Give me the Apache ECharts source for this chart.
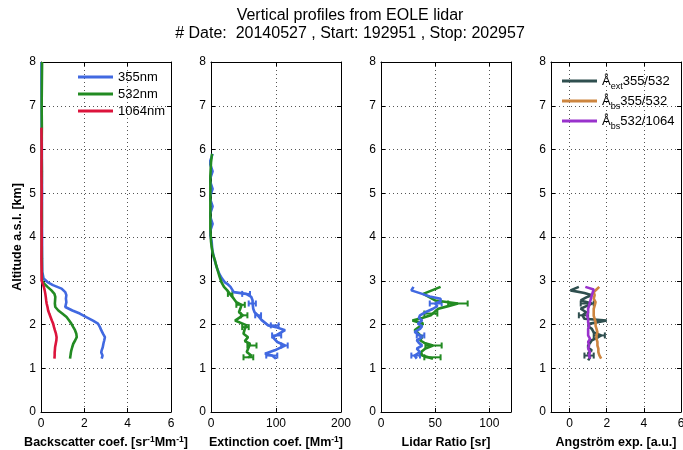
<!DOCTYPE html>
<html><head><meta charset="utf-8">
<script src="https://cdn.jsdelivr.net/npm/echarts@6/dist/echarts.min.js"></script>
<style>html,body{margin:0;padding:0;background:#fff}#c{width:683px;height:450px}</style>
</head><body><div id="c"></div>
<script>
// ---------------- Data ----------------
// Panel 1: backscatter coefficient [sr-1 Mm-1] vs altitude [km]
const bsc355Alt = [1.22,1.29,1.36,1.41,1.48,1.56,1.64,1.71,1.79,1.87,1.94,2.02,2.09,2.17,2.25,2.32,2.40,2.44,2.51,2.59,2.67,2.74,2.82,2.90,2.97,3.05,3.2,3.5,4.0,4.5,5.0,5.5,6.0,6.5,7.0,7.5,8.0];
const bsc355 = [2.80,2.84,2.78,2.80,2.85,2.88,2.92,2.95,2.86,2.78,2.72,2.63,2.40,2.09,1.79,1.45,1.12,1.20,1.17,1.15,1.17,1.12,0.95,0.55,0.30,0.12,0.06,0.05,0.05,0.04,0.05,0.04,0.04,0.03,0.03,0.02,0.02];
const bsc532Alt = [1.22,1.29,1.36,1.41,1.48,1.56,1.64,1.71,1.79,1.87,1.94,2.02,2.09,2.17,2.25,2.32,2.40,2.48,2.55,2.63,2.70,2.78,2.86,2.93,3.00,3.2,3.5,4.0,4.5,5.0,5.5,6.0,6.5,7.0,7.5,8.0];
const bsc532 = [1.34,1.36,1.38,1.40,1.44,1.49,1.58,1.65,1.63,1.57,1.49,1.40,1.30,1.18,0.98,0.80,0.66,0.64,0.65,0.66,0.62,0.48,0.30,0.15,0.05,0.04,0.04,0.03,0.04,0.03,0.04,0.03,0.04,0.03,0.04,0.05];
const bsc1064Alt = [1.22,1.29,1.36,1.41,1.48,1.56,1.64,1.71,1.79,1.87,1.94,2.02,2.09,2.17,2.25,2.32,2.40,2.48,2.55,2.63,2.70,2.78,2.86,2.93,3.00,3.2,3.5,4.0,4.5,5.0,5.5,6.0,6.5];
const bsc1064 = [0.62,0.63,0.63,0.64,0.65,0.68,0.71,0.72,0.69,0.64,0.60,0.56,0.50,0.44,0.38,0.33,0.30,0.26,0.24,0.22,0.20,0.17,0.13,0.08,0.03,0.03,0.02,0.03,0.02,0.03,0.02,0.03,0.02];

// Panel 2: extinction coefficient [Mm-1]
const ext355Alt = [1.22,1.25,1.29,1.33,1.41,1.45,1.52,1.60,1.64,1.71,1.75,1.82,1.87,1.94,1.98,2.02,2.10,2.21,2.28,2.36,2.48,2.55,2.63,2.70,2.74,2.78,2.86,2.93,2.97,3.05,3.15,3.3,3.5,3.7,3.9,4.1,4.3,4.5,4.7,4.9,5.1,5.3,5.5,5.7,5.9];
const ext355 = [100,100,94,83,98,100,114,102,105,95,100,108,114,100,88,85,78,72,67,65,64,64,62,54,35,33,30,25,21,17,13,9,5,2,1,-2,2.5,-2,2.5,-2,2.5,-2,2.5,-2,2.5];
const ext355ErrAlt = [2.70,2.48,2.21,1.98,1.75,1.52,1.29];
const ext355ErrLo = [48,58,68,92,94,108,85];
const ext355ErrHi = [60,69,77,104,108,118,102];
const ext532Alt = [1.25,1.29,1.33,1.37,1.41,1.48,1.56,1.62,1.71,1.79,1.83,1.90,1.98,2.02,2.09,2.17,2.21,2.28,2.32,2.40,2.45,2.51,2.59,2.70,2.78,2.86,2.97,3.10,3.20,3.35,3.47,3.60,3.77,3.9,4.2,4.5,4.8,5.1,5.4,5.7,5.9];
const ext532 = [57,62,65,55,54,58,60,52,57,50,47,52,55,54,37,45,49,43,42,46,47,39,35,29,25,20,16,13,11,8,6,3,1,0,-1,-1,-1,-1,-1,0,1.5];
const ext532ErrAlt = [2.70,2.45,2.21,1.94,1.52,1.25];
const ext532ErrLo = [26,39,46,48,56,50];
const ext532ErrHi = [33,52,56,58,70,65];

// Panel 3: lidar ratio [sr]
const lr355Alt = [1.22,1.29,1.37,1.45,1.52,1.58,1.64,1.71,1.75,1.83,1.90,1.96,2.02,2.09,2.15,2.21,2.28,2.36,2.42,2.48,2.53,2.59,2.64,2.70,2.78,2.86];
const lr355 = [33,31,36,33,38,35,33,38,36,31,36,38,34,38,35,36,41,48,52,50,55,55,45,38,28,30];
const lr355ErrAlt = [2.48,1.75,1.29];
const lr355ErrLo = [45,33,28];
const lr355ErrHi = [56,40,36];
const lr532Alt = [1.22,1.25,1.29,1.37,1.45,1.52,1.58,1.64,1.71,1.75,1.81,1.87,1.94,2.02,2.09,2.15,2.21,2.25,2.30,2.36,2.42,2.48,2.55,2.62,2.70,2.78,2.86];
const lr532 = [48,48,38,37,41,48,40,36,38,39,34,31,35,39,29,38,46,45,50,53,62,71,50,45,39,47,55];
const lr532ErrAlt = [2.48,2.25,1.52,1.25];
const lr532ErrLo = [62,40,41,40];
const lr532ErrHi = [80,52,56,55];

// Panel 4: Angstrom exponents [a.u.]
const angExtAlt = [1.18,1.25,1.29,1.35,1.41,1.47,1.52,1.58,1.64,1.70,1.75,1.82,1.90,1.96,2.02,2.09,2.13,2.21,2.28,2.36,2.42,2.48,2.55,2.62,2.67,2.72,2.78,2.86];
const angExt = [1.0,1.1,1.1,1.0,1.2,1.0,1.0,1.1,1.2,1.5,1.7,1.3,1.2,1.0,1.1,2.0,0.8,0.7,0.9,0.6,0.9,1.2,0.6,0.9,1.2,0.8,0.05,0.5];
const angExtErrAlt = [2.48,2.21,1.75,1.29];
const angExtErrLo = [0.6,0.5,1.3,0.8];
const angExtErrHi = [1.3,1.0,1.9,1.3];
const angBsAlt = [1.22,1.30,1.37,1.45,1.52,1.60,1.67,1.75,1.82,1.90,1.97,2.05,2.13,2.20,2.28,2.36,2.43,2.51,2.59,2.67,2.74,2.80,2.86];
const angBs355 = [1.7,1.6,1.55,1.55,1.5,1.5,1.45,1.45,1.5,1.45,1.4,1.4,1.35,1.3,1.3,1.3,1.35,1.4,1.3,1.35,1.3,1.45,1.6];
const angBs532 = [1.1,1.05,1.1,1.0,1.05,1.0,1.1,1.0,1.0,1.0,1.05,1.0,1.0,0.95,1.0,1.0,1.05,1.1,1.15,1.2,1.25,1.3,0.85];

// Axis tick labels / titles
const altTicks = [0,1,2,3,4,5,6,7,8];
const xNames = ['Backscatter coef. [sr{sup|-1}Mm{sup|-1}]', 'Extinction coef. [Mm{sup|-1}]', 'Lidar Ratio [sr]', 'Angström exp. [a.u.]'];
const titleLines = ['Vertical profiles from EOLE lidar', '# Date:  20140527 , Start: 192951 , Stop: 202957'];

// ---------------- Build ----------------
const C355 = '#4169E1', C532 = '#228B22', C1064 = '#DC143C';
const CEXT = '#2F4F4F', CBS355 = '#CD853F', CBS532 = '#9932CC';
const FONT = 'Liberation Sans, Arial, Helvetica, sans-serif';

function pairs(vals, alts) { return alts.map((a, i) => [vals[i], a]); }
function errs(alts, lo, hi) { return alts.map((a, i) => [a, lo[i], hi[i]]); }

const lefts = [41, 211, 381, 551];
const TOP = 62, H = 350, W = 130;
const xCfg = [
  {min: 0, max: 6, interval: 2},
  {min: 0, max: 200, interval: 100},
  {min: 0, max: 120, interval: 50},
  {min: -1, max: 6, splitNumber: 4, minInterval: 2, maxInterval: 2}
];

const grids = [], xAxes = [], yAxes = [];
const gridLine = {show: true, lineStyle: {type: [1, 3], color: '#555', width: 1}};
lefts.forEach((l, i) => {
  grids.push({left: l, top: TOP, width: W, height: H, containLabel: false, outerBoundsMode: 'none'});
  const base = Object.assign({type: 'value', gridIndex: i}, xCfg[i]);
  xAxes.push(Object.assign({}, base, {
    position: 'bottom',
    axisLine: {show: true, onZero: false, lineStyle: {color: '#000', width: 1}},
    axisTick: {show: true, inside: true, length: 4, lineStyle: {color: '#000'}},
    axisLabel: {show: true, color: '#000', fontSize: 12, fontFamily: FONT, margin: 6,
      showMaxLabel: i === 2 ? false : null, showMinLabel: i === 3 ? false : null},
    splitLine: gridLine,
    name: xNames[i], nameLocation: 'middle', nameGap: 16,
    nameTextStyle: {color: '#000', fontSize: 12.5, fontWeight: 'bold', fontFamily: FONT, lineHeight: 16,
      rich: {sup: {fontSize: 8.5, fontWeight: 'bold', fontFamily: FONT, verticalAlign: 'top', lineHeight: 16}}}
  }));
  xAxes.push(Object.assign({}, base, {
    position: 'top',
    axisLine: {show: true, onZero: false, lineStyle: {color: '#000', width: 1}},
    axisTick: {show: true, inside: true, length: 4, lineStyle: {color: '#000'}},
    axisLabel: {show: false}, splitLine: {show: false}
  }));
  yAxes.push({
    type: 'value', gridIndex: i, min: 0, max: 8, interval: 1, position: 'left',
    axisLine: {show: true, onZero: false, lineStyle: {color: '#000', width: 1}},
    axisTick: {show: true, inside: true, length: 4, lineStyle: {color: '#000'}},
    axisLabel: {show: true, color: '#000', fontSize: 12, fontFamily: FONT, margin: 5,
      formatter: v => altTicks.indexOf(v) >= 0 ? String(v) : ''},
    splitLine: gridLine,
    name: i === 0 ? 'Altitude a.s.l. [km]' : '', nameLocation: 'middle', nameGap: 17,
    nameTextStyle: {color: '#000', fontSize: 12.5, fontWeight: 'bold', fontFamily: FONT}
  });
  yAxes.push({
    type: 'value', gridIndex: i, min: 0, max: 8, interval: 1, position: 'right',
    axisLine: {show: true, onZero: false, lineStyle: {color: '#000', width: 1}},
    axisTick: {show: true, inside: true, length: 4, lineStyle: {color: '#000'}},
    axisLabel: {show: false}, splitLine: {show: false}
  });
});

function lineSeries(name, color, data, p) {
  return {
    name, type: 'line', data, xAxisIndex: 2 * p, yAxisIndex: 2 * p,
    showSymbol: false, symbol: 'none', color,
    lineStyle: {color, width: 2.6}, clip: true, animation: false, z: 3
  };
}
function errSeries(name, color, data, p) {
  return {
    name, type: 'custom', xAxisIndex: 2 * p, yAxisIndex: 2 * p, data, animation: false, z: 3,
    encode: {x: [1, 2], y: 0},
    renderItem: (params, api) => {
      const a = api.value(0), lo = api.value(1), hi = api.value(2);
      const p1 = api.coord([lo, a]), p2 = api.coord([hi, a]);
      const c = 3, st = {stroke: color, lineWidth: 2};
      return {type: 'group', children: [
        {type: 'line', shape: {x1: p1[0], y1: p1[1], x2: p2[0], y2: p2[1]}, style: st},
        {type: 'line', shape: {x1: p1[0], y1: p1[1] - c, x2: p1[0], y2: p1[1] + c}, style: st},
        {type: 'line', shape: {x1: p2[0], y1: p2[1] - c, x2: p2[0], y2: p2[1] + c}, style: st}
      ]};
    }
  };
}

const series = [
  lineSeries('355nm', C355, pairs(bsc355, bsc355Alt), 0),
  lineSeries('532nm', C532, pairs(bsc532, bsc532Alt), 0),
  lineSeries('1064nm', C1064, pairs(bsc1064, bsc1064Alt), 0),

  lineSeries('ext355', C355, pairs(ext355, ext355Alt), 1),
  errSeries('ext355err', C355, errs(ext355ErrAlt, ext355ErrLo, ext355ErrHi), 1),
  lineSeries('ext532', C532, pairs(ext532, ext532Alt), 1),
  errSeries('ext532err', C532, errs(ext532ErrAlt, ext532ErrLo, ext532ErrHi), 1),

  lineSeries('lr532', C532, pairs(lr532, lr532Alt), 2),
  errSeries('lr532err', C532, errs(lr532ErrAlt, lr532ErrLo, lr532ErrHi), 2),
  lineSeries('lr355', C355, pairs(lr355, lr355Alt), 2),
  errSeries('lr355err', C355, errs(lr355ErrAlt, lr355ErrLo, lr355ErrHi), 2),

  lineSeries('Aext', CEXT, pairs(angExt, angExtAlt), 3),
  errSeries('Aexterr', CEXT, errs(angExtErrAlt, angExtErrLo, angExtErrHi), 3),
  lineSeries('Abs355', CBS355, pairs(angBs355, angBsAlt), 3),
  lineSeries('Abs532', CBS532, pairs(angBs532, angBsAlt), 3)
];

const angLabels = {
  Aext: '{a|Å}{s|ext}{a|355/532}',
  Abs355: '{a|Å}{s|bs}{a|355/532}',
  Abs532: '{a|Å}{s|bs}{a|532/1064}'
};

const option = {
  backgroundColor: '#fff',
  animation: false,
  grid: grids, xAxis: xAxes, yAxis: yAxes, series,
  legend: [
    {data: ['355nm', '532nm', '1064nm'], orient: 'vertical', left: 78, top: 69, padding: 0,
     itemWidth: 35, itemHeight: 3, itemGap: 1, icon: 'rect',
     textStyle: {fontSize: 13, fontFamily: FONT, color: '#000', lineHeight: 16}},
    {data: ['Aext', 'Abs355', 'Abs532'], orient: 'vertical', left: 562, top: 71, padding: 0,
     itemWidth: 35, itemHeight: 3, itemGap: 0, icon: 'rect',
     formatter: n => angLabels[n],
     textStyle: {fontSize: 13, fontFamily: FONT, color: '#000', lineHeight: 20,
       rich: {a: {fontSize: 13, fontFamily: FONT, color: '#000', lineHeight: 20},
              s: {fontSize: 9, fontFamily: FONT, color: '#000', verticalAlign: 'bottom', lineHeight: 14}}}}
  ],
  graphic: [
    {type: 'text', x: 350, y: 8, style: {text: titleLines[0], fill: '#000', font: '16px ' + FONT, textAlign: 'center'}},
    {type: 'text', x: 350, y: 26, style: {text: titleLines[1], fill: '#000', font: '16px ' + FONT, textAlign: 'center'}}
  ]
};

const chart = echarts.init(document.getElementById('c'), null, {renderer: 'canvas'});
chart.setOption(option);
</script></body></html>
